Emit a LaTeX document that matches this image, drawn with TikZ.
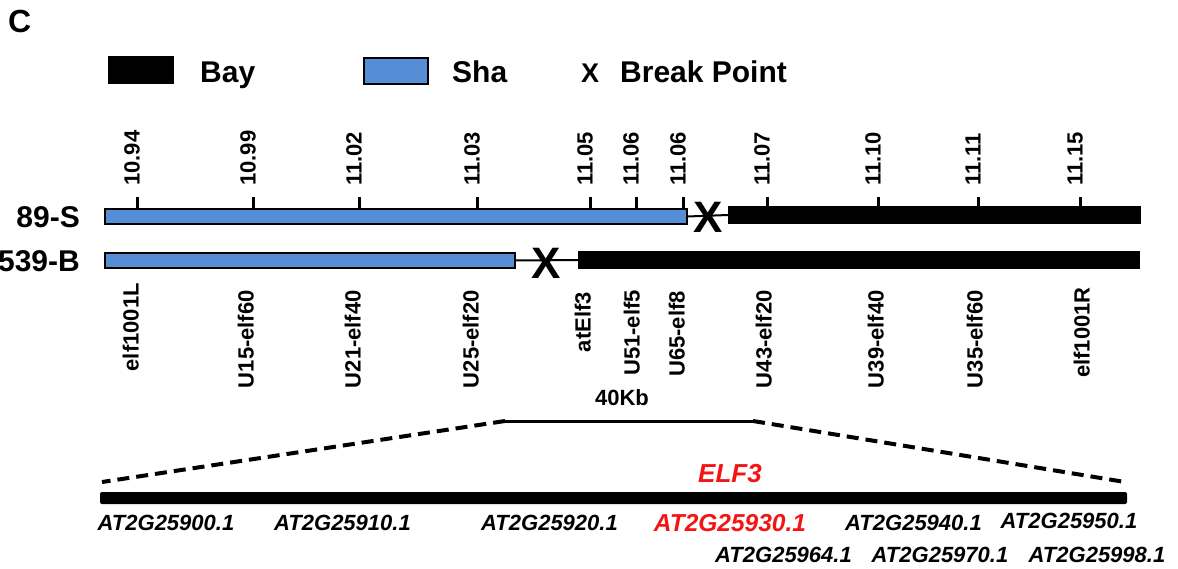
\documentclass[tikz,border=0pt]{standalone}
\usepackage{fontspec}
\setmainfont{Liberation Sans}
\definecolor{sha}{RGB}{85,142,213}
\definecolor{elfred}{RGB}{245,20,20}
\begin{document}
\begin{tikzpicture}[x=1pt,y=-1pt,
  shabar/.style={draw=black, line width=1.5pt, fill=sha, inner sep=0pt, outer sep=0pt, anchor=north west},
  baybar/.style={fill=black, draw=none, inner sep=0pt, outer sep=0pt, anchor=north west},
  joinline/.style={line width=2pt},
  tickmk/.style={line width=3pt},
  ticklbl/.style={rotate=90, anchor=mid west, inner sep=0pt, font=\fontsize{22}{24}\selectfont\bfseries},
  mklbl/.style={rotate=90, anchor=mid east, inner sep=0pt, font=\fontsize{22}{24}\selectfont\bfseries},
  rowlbl/.style={anchor=base east, inner sep=0pt, font=\fontsize{30}{32}\selectfont\bfseries},
  legtxt/.style={anchor=base west, inner sep=0pt, font=\fontsize{30}{32}\selectfont\bfseries},
  brk/.style={inner sep=0pt, font=\fontsize{44}{44}\selectfont\bfseries},
  gene/.style={inner sep=0pt, font=\fontsize{22}{24}\selectfont\bfseries\itshape},
  redgene/.style={inner sep=0pt, text=elfred, font=\fontsize{24.5}{26}\selectfont\bfseries\itshape},
  zoomline/.style={line width=4pt, dash pattern=on 12pt off 7pt},
  scaleline/.style={line width=3pt}]
\useasboundingbox (0,0) rectangle (1178,568);

% panel letter
\node[anchor=base west, inner sep=0pt, font=\fontsize{32}{34}\selectfont\bfseries] (panel) at (8,32) {C};

% legend
\node[baybar, minimum width=66pt, minimum height=28pt] (legbay) at (108,56) {};
\node[legtxt] (legbaytxt) at (200,82) {Bay};
\node[shabar, minimum width=64pt, minimum height=26pt] (legsha) at (364,58) {};
\node[legtxt] (legshatxt) at (452,82) {Sha};
\node[anchor=base, inner sep=0pt, font=\fontsize{27}{28}\selectfont\bfseries] (legx) at (590,82) {X};
\node[legtxt] (legbrktxt) at (620,82) {Break Point};

% row labels
\node[rowlbl] (r1) at (80,227) {89-S};
\node[rowlbl] (r2) at (80,271) {539-B};

% row 1
\node[shabar, minimum width=582pt, minimum height=15pt] (s1) at (105,209) {};
\node[baybar, minimum width=413pt, minimum height=18pt] (b1) at (728,206) {};
\draw[joinline] (s1.east) -- (b1.west);
\node[brk] (x1) at (708,217) {X};

% row 2
\node[shabar, minimum width=410pt, minimum height=15pt] (s2) at (105,253) {};
\node[baybar, minimum width=562pt, minimum height=18pt] (b2) at (578,251) {};
\draw[joinline] (s2.east) -- (b2.west);
\node[brk] (x2) at (546,263) {X};

% ticks
\foreach \x in {137,253,359,477,590,636,683,767,878,978,1080}
  \draw[tickmk] (\x,197) -- (\x,208);

% tick labels
\node[ticklbl] (t1) at (137,186) {10.94};
\node[ticklbl] (t2) at (253,186) {10.99};
\node[ticklbl] (t3) at (359,186) {11.02};
\node[ticklbl] (t4) at (477,186) {11.03};
\node[ticklbl] (t5) at (590,186) {11.05};
\node[ticklbl] (t6) at (636,186) {11.06};
\node[ticklbl] (t7) at (683,186) {11.06};
\node[ticklbl] (t8) at (767,186) {11.07};
\node[ticklbl] (t9) at (878,186) {11.10};
\node[ticklbl] (t10) at (978,186) {11.11};
\node[ticklbl] (t11) at (1080,186) {11.15};

% marker labels
\node[mklbl] (m1) at (136,283) {elf1001L};
\node[mklbl] (m2) at (251,290) {U15-elf60};
\node[mklbl] (m3) at (358,290) {U21-elf40};
\node[mklbl] (m4) at (476,290) {U25-elf20};
\node[mklbl] (m5) at (588,292) {atElf3};
\node[mklbl] (m6) at (637,290) {U51-elf5};
\node[mklbl] (m7) at (682,291) {U65-elf8};
\node[mklbl] (m8) at (769,290) {U43-elf20};
\node[mklbl] (m9) at (881,290) {U39-elf40};
\node[mklbl] (m10) at (980,290) {U35-elf60};
\node[mklbl] (m11) at (1087,287) {elf1001R};

% 40 Kb scale and zoom lines
\coordinate (kbL) at (505,421);
\coordinate (kbR) at (753,421);
\coordinate (dL) at (102,482);
\coordinate (dR) at (1125,482);
\node[inner sep=0pt, font=\fontsize{22}{24}\selectfont\bfseries] (kb) at (622,398) {40Kb};
\draw[scaleline] (kbL) -- (kbR);
\draw[zoomline] (kbL) -- (dL);
\draw[zoomline] (kbR) -- (dR);

% gene bar
\node[baybar, minimum width=1027pt, minimum height=12pt, rounded corners=2pt] (gbar) at (100,492) {};
\node[redgene, font=\fontsize{26}{28}\selectfont\bfseries\itshape] (elf3) at (730,474) {ELF3};

\node[gene] (g1) at (166,523) {AT2G25900.1};
\node[gene] (g2) at (342.5,523) {AT2G25910.1};
\node[gene] (g3) at (549.5,523) {AT2G25920.1};
\node[redgene] (g4) at (730,523) {AT2G25930.1};
\node[gene] (g5) at (913.5,523) {AT2G25940.1};
\node[gene] (g6) at (1069,521) {AT2G25950.1};
\node[gene] (g7) at (783.5,555) {AT2G25964.1};
\node[gene] (g8) at (940,555) {AT2G25970.1};
\node[gene] (g9) at (1097,555) {AT2G25998.1};
\end{tikzpicture}
\end{document}
